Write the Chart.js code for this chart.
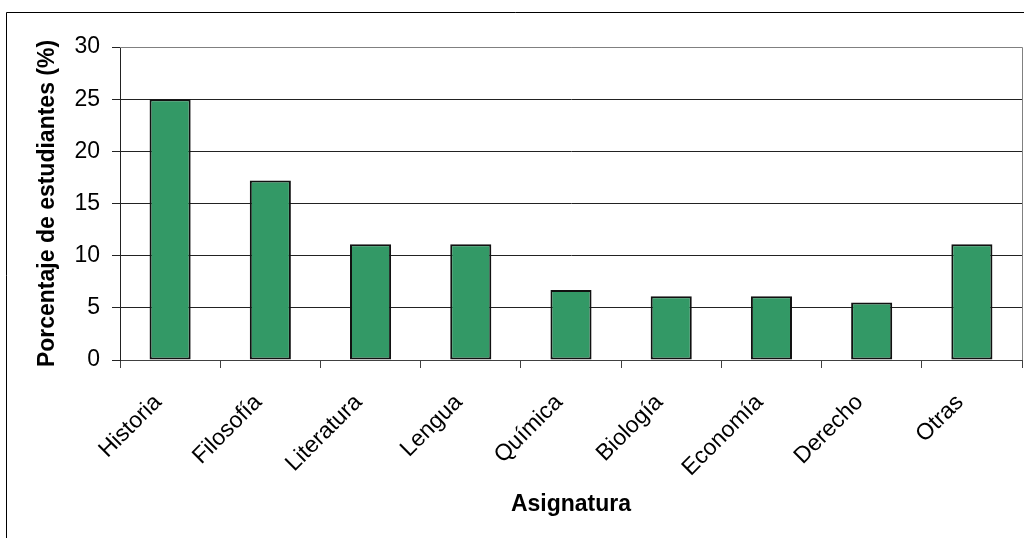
<!DOCTYPE html>
<html>
<head>
<meta charset="utf-8">
<script src="https://cdn.jsdelivr.net/npm/chart.js@4/dist/chart.umd.min.js"></script>
<style>
  html, body { margin: 0; padding: 0; background: #fff; }
  #wrap { width: 1024px; height: 538px; }
</style>
</head>
<body>
<div id="wrap"><canvas id="chart" width="1024" height="538"></canvas></div>
<script>
const categories = ['Historia', 'Filosofía', 'Literatura', 'Lengua', 'Química', 'Biología', 'Economía', 'Derecho', 'Otras'];
const percentages = [25, 17.2, 11.1, 11.1, 6.7, 6.1, 6.1, 5.5, 11.1];
const yTicks = [0, 5, 10, 15, 20, 25, 30];

// marco exterior y borde gris del área de trazado
const framePlugin = {
    id: 'frame',
    afterDraw(chart) {
        const { ctx, chartArea } = chart;
        ctx.save();
        ctx.strokeStyle = '#000';
        ctx.lineWidth = 1;
        ctx.beginPath();
        ctx.moveTo(6.5, 540);
        ctx.lineTo(6.5, 12.5);
        ctx.lineTo(1030, 12.5);
        ctx.stroke();

        ctx.strokeStyle = '#808080';
        ctx.beginPath();
        ctx.moveTo(chartArea.left, Math.round(chartArea.top) + 0.5);
        ctx.lineTo(Math.round(chartArea.right) + 0.5, Math.round(chartArea.top) + 0.5);
        ctx.lineTo(Math.round(chartArea.right) + 0.5, chartArea.bottom);
        ctx.stroke();
        ctx.restore();
    }
};

new Chart(document.getElementById('chart'), {
    type: 'bar',
    data: {
        labels: categories,
        datasets: [{
            data: percentages,
            backgroundColor: '#339966',
            borderColor: '#111',
            borderWidth: 2,
            borderSkipped: false,
            categoryPercentage: 1,
            barPercentage: 0.41
        }]
    },
    options: {
        responsive: false,
        animation: false,
        layout: { padding: { left: 0, top: 47, right: 2, bottom: 0 } },
        plugins: {
            legend: { display: false },
            tooltip: { enabled: false }
        },
        scales: {
            x: {
                afterFit: (scale) => { scale.height = 178; },
                grid: {
                    drawOnChartArea: false,
                    drawTicks: true,
                    tickLength: 8,
                    color: '#404040'
                },
                border: { color: '#404040', width: 1 },
                ticks: {
                    color: '#000',
                    font: { family: 'Liberation Sans', size: 23 },
                    minRotation: 45,
                    maxRotation: 45,
                    autoSkip: false,
                    padding: 21,
                    labelOffset: -12
                },
                title: {
                    display: true,
                    text: 'Asignatura',
                    color: '#000',
                    font: { family: 'Liberation Sans', size: 23, weight: 'bold' },
                    padding: { top: 0, bottom: 20 }
                }
            },
            y: {
                min: 0,
                max: 30,
                afterFit: (scale) => { scale.width = 120; },
                afterBuildTicks: (scale) => { scale.ticks = yTicks.map(v => ({ value: v })); },
                grid: {
                    color: (c) => c.tick && c.tick.value === 30 ? '#808080' : '#222',
                    tickColor: '#222',
                    tickLength: 8
                },
                border: { color: '#222', width: 1 },
                ticks: {
                    color: '#000',
                    font: { family: 'Liberation Sans', size: 23 },
                    padding: 12
                },
                title: {
                    display: true,
                    text: 'Porcentaje de estudiantes (%)',
                    color: '#000',
                    font: { family: 'Liberation Sans', size: 23, weight: 'bold' },
                    padding: { top: 34, bottom: 0 }
                }
            }
        }
    },
    plugins: [framePlugin]
});
</script>
</body>
</html>
